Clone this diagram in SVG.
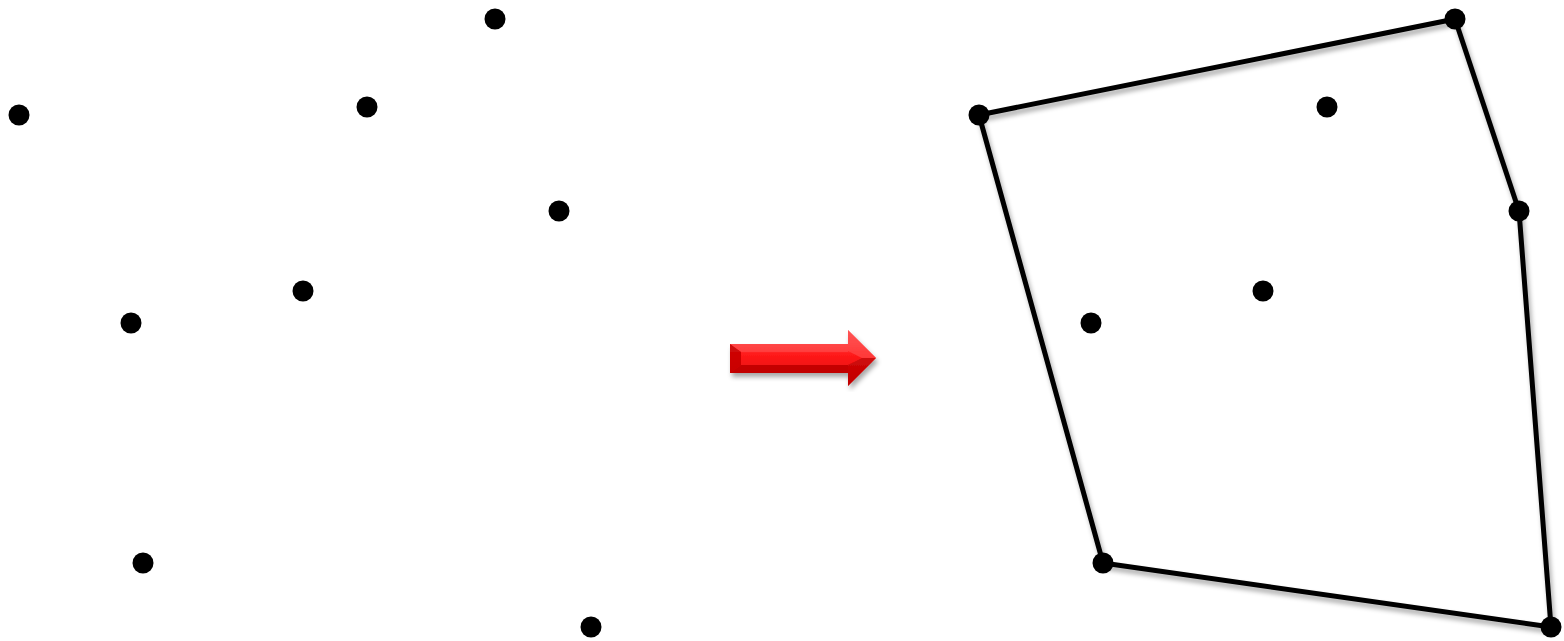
<svg xmlns="http://www.w3.org/2000/svg" width="1564" height="641" viewBox="0 0 1564 641">
<style>
.dot{fill:#000}
.hull{fill:none;stroke:#000;stroke-width:5;stroke-linejoin:round}
</style>
<defs>
<filter id="sh" x="-10%" y="-10%" width="120%" height="120%">
<feGaussianBlur in="SourceAlpha" stdDeviation="2.5"/>
<feOffset dx="2" dy="4" result="b"/>
<feComponentTransfer><feFuncA type="linear" slope="0.35"/></feComponentTransfer>
<feMerge><feMergeNode/><feMergeNode in="SourceGraphic"/></feMerge>
</filter>
<linearGradient id="ag" x1="0" y1="0" x2="0" y2="1">
<stop offset="0" stop-color="#ff6060"/>
<stop offset="0.45" stop-color="#ff1a1a"/>
<stop offset="1" stop-color="#d80000"/>
</linearGradient>
</defs>
<g id="connectors">
<polygon class="hull" filter="url(#sh)" points="979,115 1455,19 1519,211 1551,627 1103,563"/>
</g>
<g id="arrow" filter="url(#sh)">
<polygon points="730,344 848,344 848,330 876,358 848,386 848,373 730,373" fill="url(#ag)"/>
<polygon points="730,344 848,344 848,330 876,358 862,358 848,351 848,352 741,352" fill="#ff5050" opacity="0.6"/>
<polygon points="730,344 741,352 741,365 730,373" fill="#c00000" opacity="0.8"/>
<polygon points="730,373 741,365 848,365 848,373" fill="#b00000" opacity="0.7"/>
<polygon points="848,365 862,358 876,358 848,386" fill="#b00000" opacity="0.6"/>
</g>
<g id="left-points">
<circle id="p1" class="dot" cx="495" cy="19" r="10.5"/>
<circle id="p2" class="dot" cx="19" cy="115" r="10.5"/>
<circle id="p3" class="dot" cx="367" cy="107" r="10.5"/>
<circle id="p4" class="dot" cx="559" cy="211" r="10.5"/>
<circle id="p5" class="dot" cx="303" cy="291" r="10.5"/>
<circle id="p6" class="dot" cx="131" cy="323" r="10.5"/>
<circle id="p7" class="dot" cx="143" cy="563" r="10.5"/>
<circle id="p8" class="dot" cx="591" cy="627" r="10.5"/>
</g>
<g id="right-points">
<circle id="q1" class="dot" cx="1455" cy="19" r="10.5"/>
<circle id="q2" class="dot" cx="979" cy="115" r="10.5"/>
<circle id="q3" class="dot" cx="1327" cy="107" r="10.5"/>
<circle id="q4" class="dot" cx="1519" cy="211" r="10.5"/>
<circle id="q5" class="dot" cx="1263" cy="291" r="10.5"/>
<circle id="q6" class="dot" cx="1091" cy="323" r="10.5"/>
<circle id="q7" class="dot" cx="1103" cy="563" r="10.5"/>
<circle id="q8" class="dot" cx="1551" cy="627" r="10.5"/>
</g>
</svg>
